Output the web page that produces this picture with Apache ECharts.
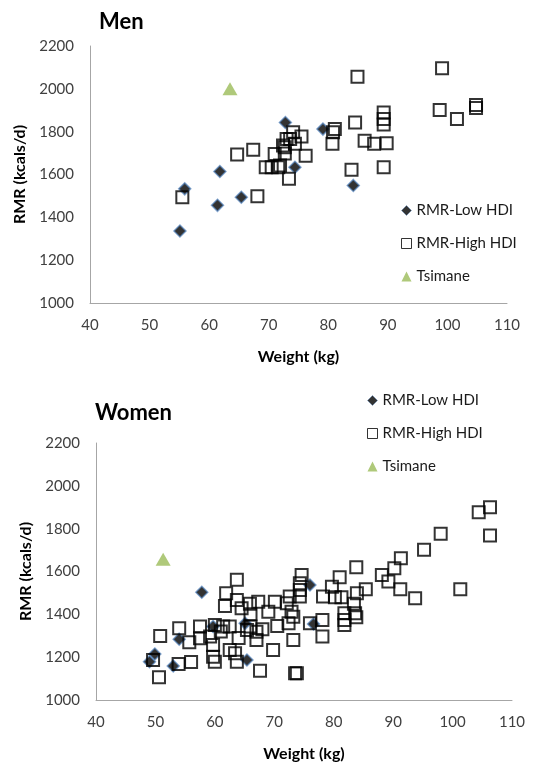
<!DOCTYPE html>
<html>
<head>
<meta charset="utf-8">
<script src="https://cdn.jsdelivr.net/npm/echarts@6/dist/echarts.min.js"></script>
<style>html,body{margin:0;padding:0;background:#fff}#c{width:536px;height:769px}</style>
</head>
<body>
<div id="c"></div>
<script>
// ---- Data (weight kg, RMR kcal/d) ----
var seriesNames = ['RMR-Low HDI', 'RMR-High HDI', 'Tsimane'];
var xTicks = [40, 50, 60, 70, 80, 90, 100, 110];
var yTicks = [1000, 1200, 1400, 1600, 1800, 2000, 2200];

var menLow = [[55.1,1336],[55.9,1533],[61.4,1456],[61.8,1614],[65.4,1494],[72.8,1843],[74.4,1634],[79.1,1812],[84.2,1549]];
var menHigh = [[55.5,1494],[64.7,1693],[67.4,1715],[68.1,1499],[69.5,1634],[70.5,1634],[71.6,1634],[71.0,1696],[72.4,1735],[72.7,1698],[72.7,1727],[73.0,1766],[73.4,1580],[73.6,1766],[74.1,1797],[74.4,1743],[75.5,1777],[76.2,1688],[71.9,1642],[80.7,1743],[80.8,1797],[81.1,1812],[83.9,1622],[84.5,1843],[84.9,2056],[86.1,1758],[87.7,1743],[89.3,1634],[89.3,1833],[89.3,1859],[89.3,1890],[89.8,1746],[98.7,1901],[99.1,2096],[101.6,1859],[104.8,1910],[104.8,1924]];
var menTsimane = [[63.5,2000]];

var womenLow = [[49.0,1179],[49.9,1215],[53.0,1159],[54.0,1284],[57.8,1503],[59.7,1343],[65.1,1358],[65.4,1187],[76.0,1537],[76.6,1355]];
var womenHigh = [[50.8,1299],[49.6,1187],[50.6,1106],[53.9,1168],[56.0,1178],[55.7,1270],[54.0,1335],[57.5,1343],[57.5,1288],[63.7,1561],[61.9,1499],[63.7,1467],[61.7,1439],[64.5,1428],[65.9,1449],[67.3,1459],[70.1,1459],[69.0,1412],[73.2,1389],[67.0,1319],[67.0,1280],[69.8,1234],[67.6,1137],[60.0,1350],[61.4,1343],[62.5,1343],[59.2,1296],[59.7,1257],[59.7,1202],[60.0,1179],[62.5,1234],[63.4,1218],[63.7,1179],[65.4,1327],[66.0,1343],[61.0,1320],[64.0,1290],[66.0,1400],[68.0,1330],[70.5,1345],
  [106.3,1900],[104.4,1877],[106.3,1768],[98.0,1776],[95.2,1701],[91.3,1662],[90.2,1615],[88.1,1584],[89.2,1553],[91.2,1517],[93.7,1475],[101.3,1517],[83.8,1620],[81.0,1573],[85.4,1517],[79.7,1529],[83.9,1498],[78.2,1483],[80.2,1480],[81.3,1480],[83.4,1449],[83.6,1405],[83.8,1386],[81.8,1405],[81.8,1374],[81.8,1350],[78.1,1374],[78.1,1296],[74.6,1584],[74.3,1545],[74.3,1483],[74.3,1514],[72.6,1483],[72.1,1452],[72.9,1412],[72.4,1358],[73.2,1280],[76.0,1358],[73.8,1125],[73.5,1125]];
var womenTsimane = [[51.3,1657]];

// ---- Chart ----
var FONT = 'Lato, "Open Sans", sans-serif';
var chart = echarts.init(document.getElementById('c'));

function xAxisCfg(idx) {
  return {
    type: 'value', gridIndex: idx, min: xTicks[0], max: xTicks[xTicks.length - 1], interval: 10,
    name: 'Weight (kg)', nameLocation: 'middle', nameGap: 46,
    nameTextStyle: { fontFamily: FONT, fontWeight: 'bold', fontSize: 16, color: '#000' },
    axisLine: { show: true, lineStyle: { color: '#a6a6a6', width: 1 } },
    axisTick: { show: false }, splitLine: { show: false },
    axisLabel: { fontFamily: FONT, fontSize: 15, color: '#404040', margin: 15, formatter: function (v) { return String(v); } }
  };
}
function yAxisCfg(idx) {
  return {
    type: 'value', gridIndex: idx, min: yTicks[0], max: yTicks[yTicks.length - 1], interval: 200,
    name: 'RMR (kcals/d)', nameLocation: 'middle', nameGap: 62, nameRotate: 90,
    nameTextStyle: { fontFamily: FONT, fontWeight: 'bold', fontSize: 16, color: '#000' },
    axisLine: { show: true, lineStyle: { color: '#a6a6a6', width: 1 } },
    axisTick: { show: false }, splitLine: { show: false },
    axisLabel: { fontFamily: FONT, fontSize: 15, color: '#404040', margin: 16, formatter: function (v) { return String(v); } }
  };
}
function seriesSet(idx, low, high, ts) {
  return [
    { name: seriesNames[0], type: 'scatter', xAxisIndex: idx, yAxisIndex: idx, data: low,
      symbol: 'diamond', symbolSize: 12,
      itemStyle: { color: '#000', borderColor: 'rgba(79,129,189,0.85)', borderWidth: 1.5 } },
    { name: seriesNames[1], type: 'scatter', xAxisIndex: idx, yAxisIndex: idx, data: high,
      symbol: 'rect', symbolSize: 12,
      itemStyle: { color: 'rgba(255,255,255,0)', borderColor: '#000', borderWidth: 2 } },
    { name: seriesNames[2], type: 'scatter', xAxisIndex: idx, yAxisIndex: idx, data: ts,
      symbol: 'triangle', symbolSize: [15, 13],
      itemStyle: { color: '#9bbb59' } }
  ];
}
function legendCfg(left, top) {
  return {
    orient: 'vertical', left: left, top: top, itemWidth: 10, itemHeight: 10, itemGap: 18,
    data: [
      { name: seriesNames[0], itemStyle: { color: '#000', borderColor: '#4f81bd', borderWidth: 0.5 } },
      { name: seriesNames[1], itemStyle: { color: '#fff', borderColor: '#000', borderWidth: 1 } },
      { name: seriesNames[2] }
    ],
    selectedMode: false,
    textStyle: { fontFamily: FONT, fontSize: 15, color: '#1a1a1a' }
  };
}

chart.setOption({
  animation: false,
  title: [
    { text: 'Men', left: 94, top: 6, textStyle: { fontFamily: FONT, fontWeight: 'bold', fontSize: 22, color: '#000' } },
    { text: 'Women', left: 90, top: 397, textStyle: { fontFamily: FONT, fontWeight: 'bold', fontSize: 22, color: '#000' } }
  ],
  grid: [
    { left: 90, top: 46, width: 417, height: 257 },
    { left: 96, top: 443, width: 416, height: 257 }
  ],
  xAxis: [xAxisCfg(0), xAxisCfg(1)],
  yAxis: [yAxisCfg(0), yAxisCfg(1)],
  legend: [legendCfg(396, 198), legendCfg(362, 388)],
  series: seriesSet(0, menLow, menHigh, menTsimane).concat(seriesSet(1, womenLow, womenHigh, womenTsimane))
});
</script>
</body>
</html>
